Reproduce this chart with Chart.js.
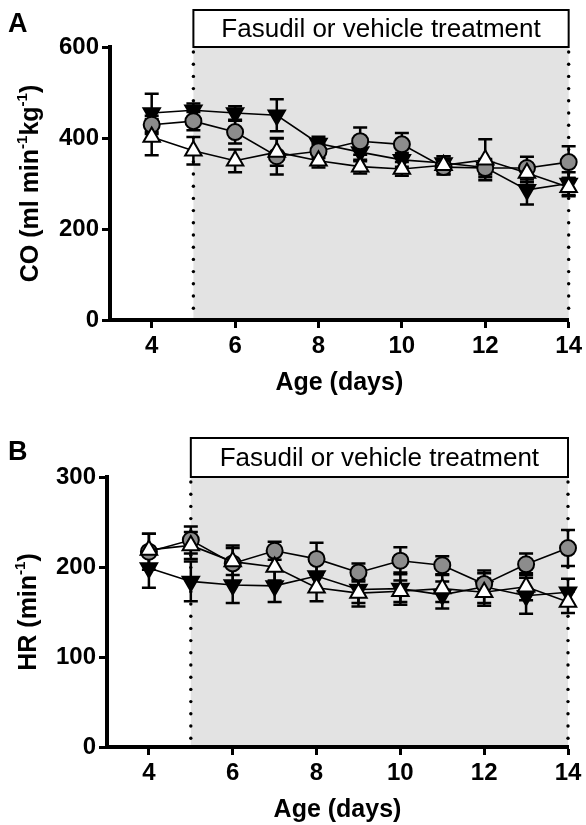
<!DOCTYPE html>
<html>
<head>
<meta charset="utf-8">
<script src="https://cdn.jsdelivr.net/npm/chart.js@4.4.1/dist/chart.umd.min.js"></script>
<style>
    body { margin: 0; background: #fff; }
    .panel { position: relative; width: 586px; }
</style>
</head>
<body>
<div class="panel" style="height: 412px;"><canvas id="panel-co"></canvas></div>
<div class="panel" style="height: 413px;"><canvas id="panel-hr"></canvas></div>
<script>
const days = [4, 5, 6, 7, 8, 9, 10, 11, 12, 13, 14];
const xTicks = [4, 6, 8, 10, 12, 14];
const coTicks = [0, 200, 400, 600];
const hrTicks = [0, 100, 200, 300];
const treatmentStart = 5;
const treatmentEnd = 14;

// panel A, cardiac output (ml/min/kg), mean and SEM
const coBlack = [455, 461, 455, 450, 388, 369, 352, 345, 335, 286, 300];
const coBlackSem = [42, 15, 15, 35, 15, 20, 15, 15, 15, 32, 25];
const coGrey = [429, 437, 413, 360, 371, 393, 386, 336, 334, 334, 347];
const coGreySem = [20, 20, 25, 40, 15, 30, 25, 15, 20, 25, 35];
const coWhite = [402, 372, 350, 369, 350, 337, 332, 340, 352, 323, 292];
const coWhiteSem = [40, 30, 25, 30, 15, 15, 15, 20, 45, 20, 20];

// panel B, heart rate (1/min), mean and SEM
const hrBlack = [199, 184, 180, 179, 190, 175, 176, 169, 178, 168, 172];
const hrBlackSem = [22, 22, 20, 18, 15, 15, 18, 15, 18, 20, 15];
const hrGrey = [217, 230, 204, 218, 209, 194, 207, 202, 181, 203, 221];
const hrGreySem = [20, 15, 20, 10, 18, 10, 15, 10, 12, 12, 20];
const hrWhite = [219, 224, 206, 200, 177, 171, 173, 176, 172, 178, 161];
const hrWhiteSem = [18, 15, 15, 15, 15, 15, 12, 15, 15, 15, 12];

const FONT = "'Liberation Sans', Arial, sans-serif";
Chart.defaults.font.family = FONT;
Chart.defaults.color = '#000';

function serie(label, values, sem, style) {
    return {
        label: label,
        data: days.map((d, i) => ({ x: d, y: values[i] })),
        sem: sem,
        borderColor: '#000',
        borderWidth: 1.6,
        tension: 0,
        clip: false,
        pointStyle: style.shape,
        rotation: style.rotation,
        pointRadius: style.radius,
        pointBackgroundColor: style.fill,
        pointBorderColor: '#000',
        pointBorderWidth: 2
    };
}

const whiteUp = { shape: 'triangle', rotation: 0, radius: 9.5, fill: '#fff' };
const greyCircle = { shape: 'circle', rotation: 0, radius: 8, fill: '#8c8c8c' };
const blackDown = { shape: 'triangle', rotation: 180, radius: 9.5, fill: '#000' };

function drawTitleParts(ctx, parts, cx, cy) {
    ctx.save();
    ctx.translate(cx, cy);
    ctx.rotate(-Math.PI / 2);
    ctx.textBaseline = 'alphabetic';
    ctx.textAlign = 'left';
    let total = 0;
    parts.forEach(p => {
        ctx.font = p.sup ? 'bold 15px ' + FONT : 'bold 25px ' + FONT;
        p.w = ctx.measureText(p.t).width;
        total += p.w;
    });
    let x = -total / 2;
    parts.forEach(p => {
        ctx.font = p.sup ? 'bold 15px ' + FONT : 'bold 25px ' + FONT;
        ctx.fillText(p.t, x, p.sup ? -2 : 9);
        x += p.w;
    });
    ctx.restore();
}

function buildPanel(id, cfg) {
    new Chart(document.getElementById(id), {
        type: 'line',
        data: { datasets: cfg.datasets },
        options: {
            responsive: true,
            maintainAspectRatio: false,
            animation: false,
            devicePixelRatio: 1,
            layout: { padding: { top: cfg.top, right: 586 - cfg.right, left: 0, bottom: 0 } },
            plugins: {
                legend: { display: false },
                tooltip: { enabled: false }
            },
            scales: {
                x: {
                    type: 'linear',
                    min: 3,
                    max: 14,
                    afterBuildTicks: scale => { scale.ticks = xTicks.map(v => ({ value: v })); },
                    afterFit: scale => { scale.height = cfg.height - cfg.bottom; },
                    grid: { display: true, drawOnChartArea: false, drawTicks: true, tickLength: 8, tickWidth: 3, color: '#000' },
                    border: { display: true, width: 4, color: '#000' },
                    ticks: { font: { size: 24, weight: 'bold' }, padding: 4, maxRotation: 0 }
                },
                y: {
                    min: 0,
                    max: cfg.yTicks[cfg.yTicks.length - 1],
                    afterBuildTicks: scale => { scale.ticks = cfg.yTicks.map(v => ({ value: v })); },
                    afterFit: scale => { scale.width = cfg.left; },
                    grid: { display: true, drawOnChartArea: false, drawTicks: true, tickLength: 8, tickWidth: 3, color: '#000' },
                    border: { display: true, width: 4, color: '#000' },
                    ticks: { font: { size: 24, weight: 'bold' }, padding: 3 }
                }
            }
        },
        plugins: [{
            id: 'treatment',
            beforeDraw(chart) {
                const { ctx, chartArea, scales } = chart;
                const x0 = scales.x.getPixelForValue(treatmentStart);
                const x1 = scales.x.getPixelForValue(treatmentEnd);
                ctx.save();
                ctx.fillStyle = '#e3e3e3';
                ctx.fillRect(x0, chartArea.top, x1 - x0, chartArea.bottom - chartArea.top);

                // dotted lines at start and end of treatment
                ctx.fillStyle = '#000';
                [x0, x1].forEach(x => {
                    for (let y = chartArea.top + 5; y < chartArea.bottom - 3; y += 12.2) {
                        ctx.beginPath();
                        ctx.arc(x, y, 1.7, 0, Math.PI * 2);
                        ctx.fill();
                    }
                });

                // label box
                ctx.fillStyle = '#fff';
                ctx.fillRect(x0, cfg.boxTop, x1 - x0, chartArea.top - cfg.boxTop);
                ctx.strokeStyle = '#000';
                ctx.lineWidth = 2;
                ctx.strokeRect(x0, cfg.boxTop, x1 - x0, chartArea.top - cfg.boxTop);
                ctx.fillStyle = '#000';
                ctx.font = '26px ' + FONT;
                ctx.textAlign = 'center';
                ctx.textBaseline = 'middle';
                ctx.fillText('Fasudil or vehicle treatment', (x0 + x1) / 2, (cfg.boxTop + chartArea.top) / 2 + 1);

                // panel letter
                ctx.font = 'bold 27px ' + FONT;
                ctx.textAlign = 'left';
                ctx.textBaseline = 'alphabetic';
                ctx.fillText(cfg.letter, 8, cfg.letterY);

                // axis titles
                ctx.font = 'bold 25px ' + FONT;
                ctx.textAlign = 'center';
                ctx.fillText('Age (days)', (chartArea.left + chartArea.right) / 2, chartArea.bottom + 70);
                drawTitleParts(ctx, cfg.yTitle, cfg.yTitleX, (chartArea.top + chartArea.bottom) / 2);
                ctx.restore();
            },
            beforeDatasetsDraw(chart) {
                const { ctx, scales } = chart;
                ctx.save();
                ctx.strokeStyle = '#000';
                ctx.lineWidth = 2.5;
                chart.data.datasets.forEach(ds => {
                    ds.data.forEach((p, i) => {
                        const x = scales.x.getPixelForValue(p.x);
                        const yHi = scales.y.getPixelForValue(p.y + ds.sem[i]);
                        const yLo = scales.y.getPixelForValue(p.y - ds.sem[i]);
                        ctx.beginPath();
                        ctx.moveTo(x, yHi);
                        ctx.lineTo(x, yLo);
                        ctx.moveTo(x - 7, yHi);
                        ctx.lineTo(x + 7, yHi);
                        ctx.moveTo(x - 7, yLo);
                        ctx.lineTo(x + 7, yLo);
                        ctx.stroke();
                    });
                });
                ctx.restore();
            }
        }]
    });
}

buildPanel('panel-co', {
    letter: 'A', letterY: 32,
    height: 412, top: 47, bottom: 320, left: 110, right: 572, boxTop: 10,
    yTicks: coTicks, yTitleX: 29,
    yTitle: [{ t: 'CO (ml min' }, { t: '-1', sup: true }, { t: 'kg' }, { t: '-1', sup: true }, { t: ')' }],
    datasets: [
        serie('Group 3', coWhite, coWhiteSem, whiteUp),
        serie('Group 2', coGrey, coGreySem, greyCircle),
        serie('Group 1', coBlack, coBlackSem, blackDown)
    ]
});

buildPanel('panel-hr', {
    letter: 'B', letterY: 48,
    height: 413, top: 65, bottom: 335, left: 107, right: 568, boxTop: 26,
    yTicks: hrTicks, yTitleX: 27,
    yTitle: [{ t: 'HR (min' }, { t: '-1', sup: true }, { t: ')' }],
    datasets: [
        serie('Group 3', hrWhite, hrWhiteSem, whiteUp),
        serie('Group 2', hrGrey, hrGreySem, greyCircle),
        serie('Group 1', hrBlack, hrBlackSem, blackDown)
    ]
});
</script>
</body>
</html>
